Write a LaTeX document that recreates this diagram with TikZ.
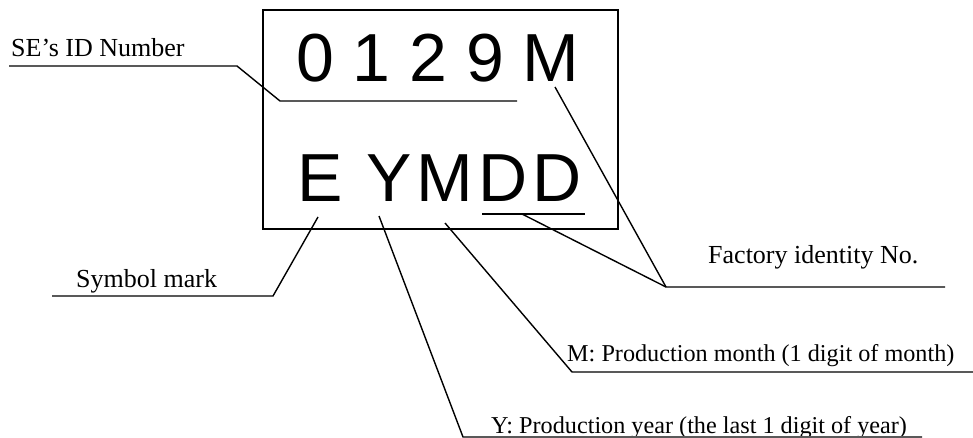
\documentclass[tikz,border=0pt]{standalone}
\usepackage{fontspec}
\setmainfont{Liberation Serif}
\newfontfamily\bigsans{Liberation Sans}
\newfontfamily\bigsansw[LetterSpace=7]{Liberation Sans}
\tikzset{
  lbl/.style={anchor=base west, inner sep=0pt, font=\fontsize{26}{30}\selectfont},
  lbllong/.style={anchor=base west, inner sep=0pt, font=\fontsize{24.2}{28}\selectfont},
  big/.style={anchor=base west, inner sep=0pt, font=\bigsans\fontsize{68}{80}\selectfont},
  bigw/.style={anchor=base west, inner sep=0pt, font=\bigsansw\fontsize{68}{80}\selectfont},
  lead/.style={line width=1.4pt, line join=miter},
  frame/.style={line width=1.6pt}
}
\begin{document}
\begin{tikzpicture}[x=1pt,y=-1pt]
\useasboundingbox (0,0) rectangle (973,438);
% label box
\draw[frame] (263,10) rectangle (618,229);
\node[big] (top) at (296,82) {0 1 2 9 M};
\node[bigw] (bot) at (297.5,202) {E YMDD};
% labels
\node[lbl] (se) at (11,57) {SE’s ID Number};
\node[lbl] (sym) at (76,287) {Symbol mark};
\node[lbl] (fac) at (708,263) {Factory identity No.};
\node[lbllong] (mon) at (567,361) {M: Production month (1 digit of month)};
\begin{scope}
\clip (0,0) rectangle (973,435);
\node[lbllong] (yr) at (491,433) {Y: Production year (the last 1 digit of year)};
\end{scope}
% coordinates
\coordinate (seA) at (9,66);
\coordinate (seB) at (237,66);
\coordinate (seC) at (280,101);
\coordinate (seD) at (517,101);
\coordinate (symA) at (52,296);
\coordinate (symB) at (273,296);
\coordinate (symC) at (318,217);
\coordinate (facJ) at (666,287);
\coordinate (facE) at (945,287);
\coordinate (facM) at (555,87);
\coordinate (ddA) at (482,214);
\coordinate (ddB) at (585,214);
\coordinate (ddC) at (522,214);
\coordinate (monT) at (445,223);
\coordinate (monJ) at (572,372);
\coordinate (monE) at (973,372);
\coordinate (yrT) at (379,216);
\coordinate (yrJ) at (463,437);
\coordinate (yrE) at (922,437);
% leaders
\draw[lead] (seA) -- (seB) -- (seC) -- (seD);
\draw[lead] (symA) -- (symB) -- (symC);
\draw[lead] (ddA) -- (ddB);
\draw[lead] (ddC) -- (facJ) -- (facE);
\draw[lead] (facM) -- (facJ);
\draw[lead] (monT) -- (monJ) -- (monE);
\draw[lead] (yrT) -- (yrJ) -- (yrE);
\end{tikzpicture}
\end{document}
